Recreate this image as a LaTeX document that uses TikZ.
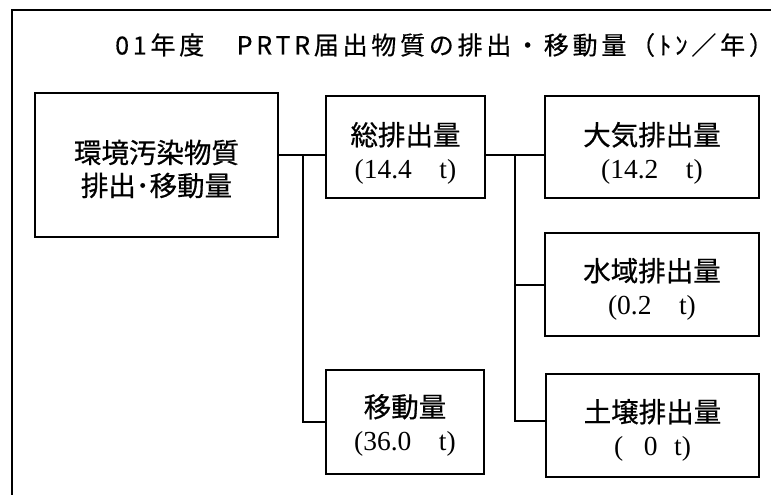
\documentclass[tikz,border=0pt]{standalone}
\usepackage{fontspec}
\setmainfont{Liberation Serif}
\newfontfamily\jp[FakeBold=0.6]{Noto Sans CJK JP}
\newfontfamily\jptitle[LetterSpace=15,FakeBold=0.4]{Noto Sans CJK JP}
\begin{document}
\begin{tikzpicture}[x=1pt,y=-1pt,
  box/.style={draw, line width=2pt, rectangle, inner sep=0pt},
  lbl/.style={align=center, inner sep=0pt, font=\fontsize{27.5}{33}\selectfont},
  wire/.style={line width=2pt}]
\useasboundingbox (0,0) rectangle (771,495);
\begin{scope}
  \clip (0,0) rectangle (771,495);
  \draw[line width=2pt] (12,520) -- (12,10) -- (790,10);
\end{scope}
\node[inner sep=0pt, anchor=west, font=\jptitle\fontsize{25}{25}\selectfont] (title) at (115,45)
  {01年度　PRTR届出物質の排出・移動量（ﾄﾝ／年）};
% boxes
\node[box, minimum width=243pt, minimum height=144pt] (b1) at (156.5,165) {};
\node[box, minimum width=159pt, minimum height=102pt] (b2) at (405.5,147) {};
\node[box, minimum width=158pt, minimum height=104pt] (b3) at (405,422) {};
\node[box, minimum width=214pt, minimum height=102pt] (b4) at (652,147) {};
\node[box, minimum width=214pt, minimum height=103pt] (b5) at (652,284.5) {};
\node[box, minimum width=213pt, minimum height=103pt] (b6) at (652.5,425.5) {};
% texts
\node[lbl] (t1) at (156.5,169) {\jp 環境汚染物質\\\jp 排出･移動量};
\node[lbl] (t2) at (405.5,153) {\jp 総排出量\\(14.4\hspace{1em}t)};
\node[lbl] (t3) at (405,425) {\jp 移動量\\(36.0\hspace{1em}t)};
\node[lbl] (t4) at (652,153) {\jp 大気排出量\\(14.2\hspace{1em}t)};
\node[lbl] (t5) at (652,289) {\jp 水域排出量\\(0.2\hspace{1em}t)};
\node[lbl] (t6) at (652.5,430) {\jp 土壌排出量\\(\hspace{0.75em}0\hspace{0.6em}t)};
% connectors
\coordinate (j1) at (303,155);
\coordinate (j2) at (515,155);
\coordinate (j3) at (515,421);
\draw[wire] (b1.east |- j1) -- (b2.west |- j1);
\draw[wire] (j1) |- (b3.west);
\draw[wire] (b2.east |- j2) -- (b4.west |- j2);
\draw[wire] (j2) |- (b5.west);
\draw[wire] (j2) -- (j3) -- (b6.west |- j3);
\end{tikzpicture}
\end{document}
